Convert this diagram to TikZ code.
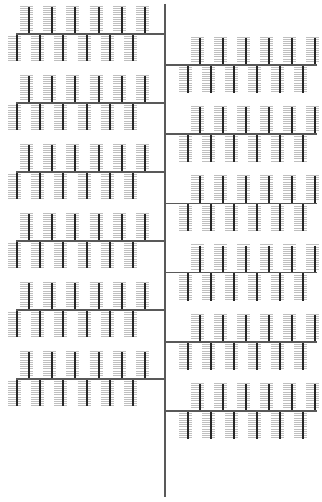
\documentclass[tikz,border=0pt]{standalone}
\begin{document}
\begin{tikzpicture}[x=1pt,y=-1pt,
  trunk/.style={draw=black!65,line width=1.6pt},
  branch/.style={draw=black!65,line width=1.6pt},
  twig/.style={draw=black!85,line width=2pt},
  tick/.style={draw=black!25,line width=0.6pt}]
\useasboundingbox (0,0) rectangle (321,502);
% ticks first
\foreach \i in {0,...,5}{
  \pgfmathsetmacro{\yl}{34+69*\i}
  \pgfmathsetmacro{\yr}{65+69.2*\i}
  \foreach \j in {0,...,5}{
    \pgfmathsetmacro{\xu}{29+23.2*\j}
    \pgfmathsetmacro{\xd}{17+23.2*\j}
    \pgfmathsetmacro{\xru}{200+23*\j}
    \pgfmathsetmacro{\xrd}{188+23*\j}
    \foreach \k in {0,...,11}{
      \draw[tick] (\xu-9,\yl-28+2.2*\k) -- (\xu+4,\yl-28+2.2*\k);
      \draw[tick] (\xd-9,\yl+2.5+2.2*\k) -- (\xd+4,\yl+2.5+2.2*\k);
      \draw[tick] (\xru-9,\yr-28+2.2*\k) -- (\xru+4,\yr-28+2.2*\k);
      \draw[tick] (\xrd-9,\yr+2.5+2.2*\k) -- (\xrd+4,\yr+2.5+2.2*\k);
    }
    \draw[twig] (\xu,\yl-27) -- (\xu,\yl);
    \draw[twig] (\xd,\yl) -- (\xd,\yl+27);
    \draw[twig] (\xru,\yr-27) -- (\xru,\yr);
    \draw[twig] (\xrd,\yr) -- (\xrd,\yr+28);
  }
  \draw[branch] (16,\yl) -- (165,\yl);
  \draw[branch] (165,\yr) -- (317,\yr);
}
\coordinate (top) at (165,4);
\coordinate (bot) at (165,497);
\draw[trunk] (top) -- (bot);
\end{tikzpicture}
\end{document}
